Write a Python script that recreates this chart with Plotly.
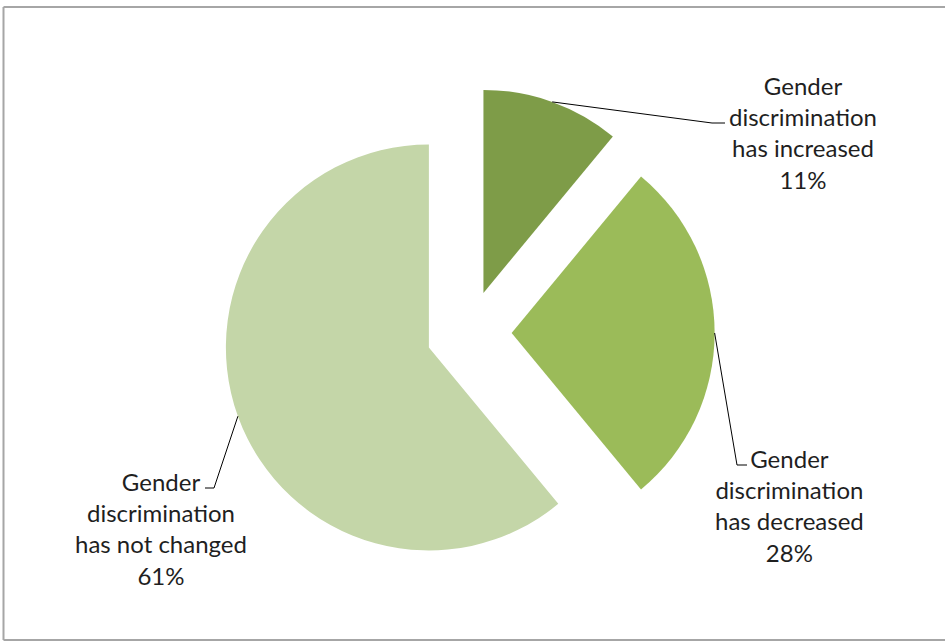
import math
import plotly.graph_objects as go

# ---- data ----
categories = ["Gender discrimination has increased",
              "Gender discrimination has decreased",
              "Gender discrimination has not changed"]
label_lines = [["Gender", "discrimination", "has increased"],
               ["Gender", "discrimination", "has decreased"],
               ["Gender", "discrimination", "has not changed"]]
values = [11, 28, 61]
percent_labels = ["11%", "28%", "61%"]

# ---- style / layout ----
colors = ["#7E9C48", "#9BBB59", "#C4D6A8"]
W, H = 945, 642
CX, CY = 469, 333          # pie centre in px
R = 203                    # radius in px
PULL = 0.21
D = 2 * R * (1 + PULL)     # domain size in px

dom_x = [(CX - D / 2) / W, (CX + D / 2) / W]
dom_y = [1 - (CY + D / 2) / H, 1 - (CY - D / 2) / H]

fig = go.Figure(go.Pie(
    labels=categories, values=values, sort=False, direction="clockwise",
    rotation=0, pull=[PULL] * 3, textinfo="none", hoverinfo="none",
    marker=dict(colors=colors, line=dict(width=0)),
    domain=dict(x=dom_x, y=dom_y), showlegend=False,
))

# label placement (px): text centre x, centre y, elbow, end of leader
label_pos = [(803, 132), (789, 505), (161, 528)]
elbows = [(712, 123), (737, 465), (214, 488)]
ends = [(725, 123), (747, 465), (205, 488)]

def px(x, y):
    return x / W, 1 - y / H

shapes = []
annotations = []
total = sum(values)
cum = 0
for i, v in enumerate(values):
    mid = (cum + v / 2) / total * 2 * math.pi
    cum += v
    sx, sy = math.sin(mid), -math.cos(mid)
    ox, oy = CX + PULL * R * sx, CY + PULL * R * sy
    ax, ay = ox + R * sx, oy + R * sy
    ex, ey = elbows[i]
    tx, ty = ends[i]
    for (x0, y0), (x1, y1) in [((ax, ay), (ex, ey)), ((ex, ey), (tx, ty))]:
        a, b = px(x0, y0)
        c, d = px(x1, y1)
        shapes.append(dict(type="line", xref="paper", yref="paper",
                           x0=a, y0=b, x1=c, y1=d,
                           line=dict(color="#000000", width=1)))
    lx, ly = px(*label_pos[i])
    annotations.append(dict(
        x=lx, y=ly, xref="paper", yref="paper", showarrow=False,
        xanchor="center", yanchor="middle", align="center",
        text="<br>".join(label_lines[i] + [percent_labels[i]]),
        font=dict(family="Lato, Liberation Sans, sans-serif", size=24, color="#1f1f1f"),
    ))

# outer frame: left, top and bottom edges (right edge lies outside the view)
frame_segments = [((3.5, 7), (3.5, 640)), ((3.5, 7), (945, 7)), ((3.5, 640), (945, 640))]
for (x0, y0), (x1, y1) in frame_segments:
    a, b = px(x0, y0)
    c, d = px(x1, y1)
    shapes.append(dict(type="line", xref="paper", yref="paper",
                       x0=a, y0=b, x1=c, y1=d,
                       line=dict(color="#A6A6A6", width=2)))

fig.update_layout(
    width=W, height=H, margin=dict(l=0, r=0, t=0, b=0),
    paper_bgcolor="white", plot_bgcolor="white",
    shapes=shapes, annotations=annotations,
)
fig.write_html("out.html", config={"displayModeBar": False},
               post_script="document.body.style.margin='0';document.body.style.padding='0';document.body.style.overflow='hidden';")
